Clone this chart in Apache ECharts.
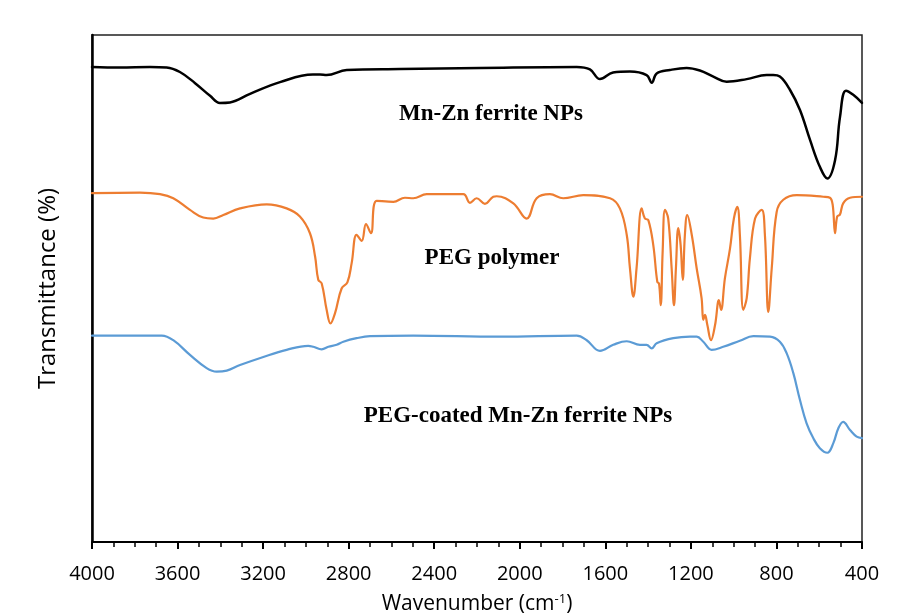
<!DOCTYPE html>
<html>
<head>
<meta charset="utf-8">
<script src="https://cdn.jsdelivr.net/npm/echarts@6/dist/echarts.min.js"></script>
<style>
  html, body { margin: 0; padding: 0; background: #fff; }
  #chart { width: 906px; height: 614px; }
</style>
</head>
<body>
<div id="chart"></div>
<script>
// FTIR spectra, [wavenumber (cm-1), offset transmittance]
const ferrite = [
  [4000, 93.7], [3869, 93.6], [3729, 93.7], [3651, 93.6], [3589, 92.7], [3518, 90.5],
  [3448, 88.0], [3402, 86.6], [3355, 86.7], [3261, 88.4], [3121, 90.7], [2967, 92.2],
  [2934, 92.2], [2903, 92.1], [2809, 93.1], [2560, 93.3], [2186, 93.5], [1734, 93.7],
  [1672, 93.2], [1625, 91.3], [1564, 92.6], [1485, 92.8], [1407, 92.1], [1383, 90.6],
  [1360, 92.4], [1298, 93.1], [1220, 93.5], [1158, 93.0], [1095, 91.8], [1033, 90.8],
  [939, 91.3], [846, 92.1], [815, 92.1], [784, 91.8], [737, 89.2], [690, 85.2],
  [643, 79.3], [597, 74.0], [562, 71.7], [526, 75.3], [503, 83.8], [475, 89.0],
  [441, 88.2], [400, 86.6]
];

const peg = [
  [4000, 68.8], [3776, 68.9], [3682, 68.6], [3620, 67.8], [3542, 65.5], [3480, 64.0],
  [3433, 63.8], [3386, 64.5], [3308, 65.8], [3183, 66.6], [3090, 65.8], [3028, 64.2],
  [2981, 60.9], [2957, 56.3], [2942, 51.7], [2926, 51.0], [2903, 45.8], [2885, 43.1],
  [2864, 45.1], [2833, 50.0], [2806, 51.2], [2786, 55.0], [2763, 60.6], [2739, 59.4],
  [2719, 62.7], [2696, 60.9], [2669, 67.3], [2591, 67.1], [2537, 67.9], [2498, 67.8],
  [2435, 68.6], [2264, 68.6], [2233, 66.9], [2202, 67.8], [2163, 66.7], [2124, 68.1],
  [2108, 68.2], [2030, 66.8], [1968, 63.8], [1921, 67.8], [1859, 68.6], [1797, 67.8],
  [1703, 68.4], [1578, 67.8], [1532, 65.8], [1500, 60.6], [1485, 54.0], [1469, 48.4],
  [1454, 54.0], [1430, 65.8], [1415, 63.8], [1399, 63.5], [1376, 58.6], [1357, 51.3],
  [1349, 51.0], [1341, 46.7], [1332, 57.3], [1321, 65.5], [1306, 63.8], [1290, 54.0],
  [1279, 46.7], [1270, 54.0], [1259, 61.9], [1248, 58.6], [1238, 51.7], [1228, 60.6],
  [1217, 64.5], [1196, 60.6], [1173, 54.0], [1150, 48.1], [1142, 43.8], [1134, 44.8],
  [1123, 42.8], [1106, 39.8], [1087, 42.8], [1069, 47.7], [1059, 45.8], [1041, 52.0],
  [1017, 57.9], [999, 63.8], [983, 66.1], [971, 60.6], [955, 45.8], [939, 48.1],
  [924, 56.0], [900, 63.8], [869, 65.5], [854, 60.6], [838, 45.4], [822, 54.0],
  [799, 65.1], [768, 67.5], [705, 68.4], [581, 68.1], [550, 67.9], [537, 66.5],
  [526, 60.9], [516, 64.2], [503, 64.6], [488, 66.8], [456, 67.9], [400, 68.1]
];

const coated = [
  [4000, 40.7], [3674, 40.7], [3620, 39.8], [3542, 36.9], [3464, 34.3], [3417, 33.6],
  [3370, 33.8], [3308, 34.9], [3199, 36.5], [3090, 37.9], [2989, 38.7], [2965, 38.5],
  [2926, 38.0], [2895, 38.5], [2856, 38.9], [2825, 39.5], [2763, 40.2], [2700, 40.6],
  [2498, 40.7], [2093, 40.5], [1734, 40.7], [1687, 39.8], [1625, 37.7], [1563, 38.9],
  [1500, 39.6], [1438, 38.9], [1407, 38.9], [1383, 38.2], [1360, 39.2], [1282, 40.2],
  [1204, 40.5], [1173, 40.5], [1142, 39.5], [1103, 37.9], [1049, 38.5], [971, 39.7],
  [908, 40.6], [830, 40.5], [784, 39.5], [752, 37.2], [721, 33.3], [690, 28.0],
  [659, 23.4], [628, 20.5], [597, 18.5], [562, 17.6], [534, 19.5], [511, 22.4],
  [488, 23.7], [456, 22.1], [425, 20.8], [400, 20.5]
];

const seriesNames = ['Mn-Zn ferrite NPs', 'PEG polymer', 'PEG-coated Mn-Zn ferrite NPs'];
const seriesColors = ['#000000', '#ED7D31', '#5B9BD5'];
const xTicks = { min: 400, max: 4000, step: 400 };

const chart = echarts.init(document.getElementById('chart'), null, { renderer: 'canvas' });

const sans = '"Open Sans", "DejaVu Sans", sans-serif';
const serif = '"Liberation Serif", "Times New Roman", serif';

const option = {
  backgroundColor: '#fff',
  animation: false,
  grid: {
    left: 92, right: 44, top: 35, bottom: 72,
    outerBoundsMode: 'none',
    containLabel: false,
    show: true, borderColor: '#222', borderWidth: 1.5
  },
  xAxis: {
    type: 'value',
    inverse: true,
    min: xTicks.min,
    max: xTicks.max,
    interval: xTicks.step,
    name: '{t|Wavenumber (cm}{s|-1}{t|)}',
    nameLocation: 'middle',
    nameGap: 51,
    nameTextStyle: {
      rich: {
        t: { fontFamily: sans, fontSize: 21, color: '#000' },
        s: { fontFamily: sans, fontSize: 13, color: '#000', verticalAlign: 'top', padding: [0, 0, 10, 0] }
      }
    },
    axisLine: { onZero: false, lineStyle: { color: '#000', width: 2 } },
    axisTick: { show: true, inside: false, length: 7, lineStyle: { color: '#000', width: 2 } },
    minorTick: { show: true, splitNumber: 4, length: 5, lineStyle: { color: '#000', width: 1.5 } },
    axisLabel: {
      color: '#000', fontFamily: sans, fontSize: 20, margin: 22,
      formatter: (v) => String(v)
    },
    splitLine: { show: false },
    minorSplitLine: { show: false }
  },
  yAxis: {
    type: 'value',
    min: 0,
    max: 100,
    name: 'Transmittance (%)',
    nameLocation: 'middle',
    nameGap: 32,
    nameTextStyle: { fontFamily: sans, fontSize: 24, color: '#000' },
    axisLine: { show: true, onZero: false, lineStyle: { color: '#000', width: 2.5 } },
    axisTick: { show: false },
    axisLabel: { show: false },
    splitLine: { show: false }
  },
  series: [ferrite, peg, coated].map((data, i) => ({
    name: seriesNames[i],
    type: 'line',
    data: data,
    showSymbol: false,
    smooth: 0.4,
    lineStyle: { color: seriesColors[i], width: i === 0 ? 2.5 : 2.2, join: 'round', cap: 'round' },
    z: 3 - i
  })),
  graphic: [
    { type: 'text', x: 491, y: 114, style: { text: seriesNames[0], font: 'bold 23px ' + serif, fill: '#000', align: 'center', verticalAlign: 'middle' } },
    { type: 'text', x: 492, y: 258, style: { text: seriesNames[1], font: 'bold 23px ' + serif, fill: '#000', align: 'center', verticalAlign: 'middle' } },
    { type: 'text', x: 518, y: 416, style: { text: seriesNames[2], font: 'bold 23px ' + serif, fill: '#000', align: 'center', verticalAlign: 'middle' } }
  ]
};

chart.setOption(option);
</script>
</body>
</html>
